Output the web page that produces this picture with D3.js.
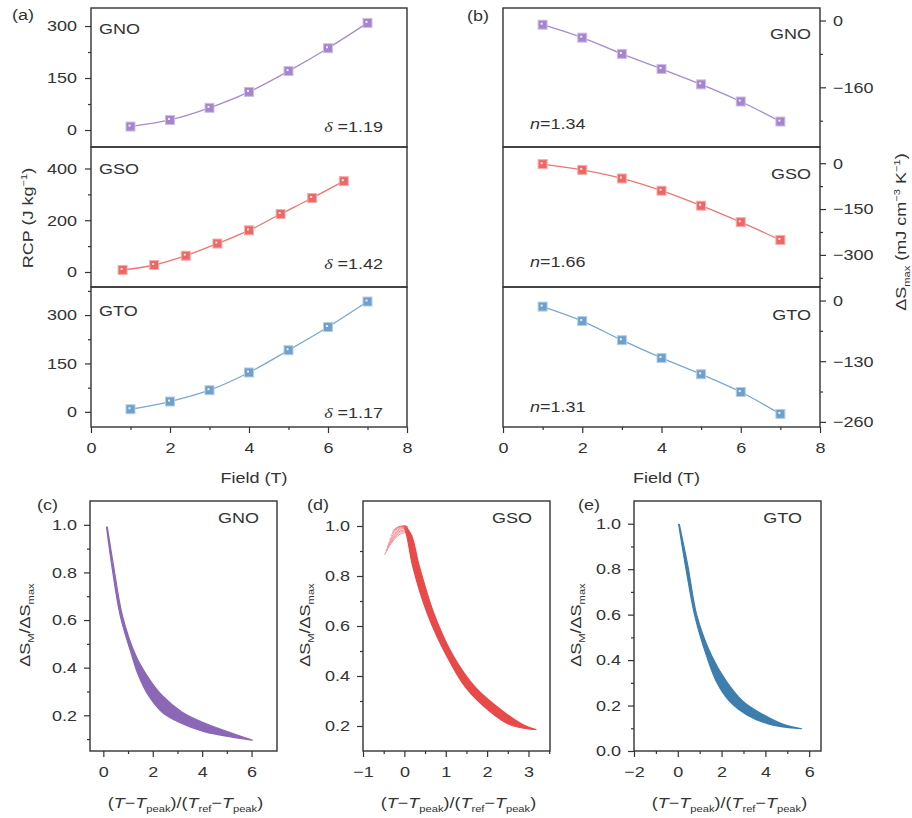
<!DOCTYPE html>
<html>
<head>
<meta charset="utf-8">
<script src="https://cdn.jsdelivr.net/npm/d3@7"></script>
<style>
  body { margin: 0; background: #fff; }
  svg { font-family: "Liberation Sans", Arial, sans-serif; }
</style>
</head>
<body>
<div id="chart"></div>
<script>
// ---- data ----
const samples = ["GNO", "GSO", "GTO"];

// (a) RCP vs field
const fieldGNO = [1, 2, 3, 4, 5, 6, 7];
const fieldGSO = [0.8, 1.6, 2.4, 3.2, 4.0, 4.8, 5.6, 6.4];
const fieldGTO = [1, 2, 3, 4, 5, 6, 7];
const rcpGNO = [10, 29, 64, 110, 170, 236, 309];
const rcpGSO = [8, 27, 63, 110, 161, 224, 286, 351];
const rcpGTO = [8, 32, 67, 122, 191, 263, 342];
const deltaVals = ["1.19", "1.42", "1.17"];

// (b) dSmax vs field
const fieldDS = [1, 2, 3, 4, 5, 6, 7];
const dsGNO = [-10, -41, -80, -116, -153, -194, -242];
const dsGSO = [-3, -22, -50, -90, -139, -193, -251];
const dsGTO = [-13, -44, -85, -123, -158, -196, -243];
const nVals = ["1.34", "1.66", "1.31"];

// (c)-(e) universal curves: band of curves, edges read at the same y levels
const bandY_GNO  = [0.99, 0.83, 0.62, 0.452, 0.368, 0.284, 0.214, 0.172, 0.13, 0.096];
const bandLo_GNO = [0.13, 0.34, 0.68, 1.15, 1.42, 1.82, 2.37, 3.04, 4.12, 6.01];
const bandHi_GNO = [0.16, 0.41, 0.77, 1.31, 1.76, 2.37, 3.18, 3.99, 5.07, 6.03];

const bandY_GSO  = [1.0, 0.96, 0.84, 0.643, 0.484, 0.352, 0.259, 0.206, 0.186];
const bandLo_GSO = [-0.01, 0.06, 0.2, 0.57, 1.01, 1.49, 2.06, 2.54, 3.1];
const bandHi_GSO = [0.03, 0.18, 0.36, 0.73, 1.17, 1.73, 2.38, 2.86, 3.18];
// low-temperature side of the GSO curves, one line per field
const fanGSO = [
  [[-0.48, 0.885], [-0.3, 0.935], [-0.1, 0.968], [0.06, 0.975]],
  [[-0.45, 0.9], [-0.28, 0.945], [-0.1, 0.975], [0.06, 0.98]],
  [[-0.42, 0.915], [-0.26, 0.955], [-0.1, 0.98], [0.06, 0.985]],
  [[-0.39, 0.93], [-0.24, 0.965], [-0.08, 0.988], [0.07, 0.99]],
  [[-0.36, 0.945], [-0.22, 0.975], [-0.06, 0.994], [0.07, 0.993]],
  [[-0.33, 0.96], [-0.2, 0.985], [-0.05, 0.998], [0.08, 0.995]],
  [[-0.3, 0.972], [-0.18, 0.992], [-0.03, 1.0], [0.08, 0.997]],
  [[-0.27, 0.982], [-0.15, 0.997], [0.0, 1.0], [0.09, 0.996]]
];

const bandY_GTO  = [0.997, 0.815, 0.597, 0.422, 0.306, 0.218, 0.16, 0.117, 0.098];
const bandLo_GTO = [0.04, 0.35, 0.77, 1.3, 1.76, 2.37, 3.14, 4.21, 5.64];
const bandHi_GTO = [0.07, 0.46, 0.87, 1.53, 2.22, 2.98, 3.9, 4.82, 5.66];

// ---- styling ----
const SX = 1.2, FS = 15, ink = "#333";
const markCol = ["#a386cc", "#ee6767", "#6f9fcb"];
const lineCol = ["#a68bd0", "#f07373", "#7aa8d0"];
const lightCol = ["#cdbde6", "#f7adad", "#b3cfe6"];
const bandCol = ["#8b68b6", "#e84a4a", "#3d7eae"];

const svg = d3.select("#chart").append("svg")
  .attr("width", 912).attr("height", 818);

// text helper: wide font look, tspans for sub/sup/italic
function txt(g, x, y, parts, o = {}) {
  const size = o.size || FS;
  const t = g.append("text")
    .attr("transform", `translate(${x},${y}) rotate(${o.rot || 0}) scale(${SX},1)`)
    .attr("font-size", size).attr("fill", ink)
    .attr("text-anchor", o.anchor || "start");
  if (typeof parts === "string") parts = [{ t: parts }];
  let shift = 0;
  parts.forEach(p => {
    const target = p.sub ? 4 : p.sup ? -6 : 0;
    const s = t.append("tspan").text(p.t).attr("dy", target - shift);
    shift = target;
    if (p.sub || p.sup) s.attr("font-size", size * 0.62);
    if (p.it) s.attr("font-style", "italic");
    if (p.serif) s.attr("font-family", "'Liberation Serif', serif");
  });
  return t;
}

function styleAxis(g) {
  g.select(".domain").remove();
  g.selectAll("line").attr("stroke", ink).attr("stroke-width", 1.2);
  g.selectAll("text").attr("fill", ink).attr("font-size", FS).each(function () {
    const t = d3.select(this);
    const x = +t.attr("x") || 0, y = +t.attr("y") || 0;
    t.attr("x", null).attr("y", null)
      .attr("transform", `translate(${x},${y}) scale(${SX},1)`);
  });
}

// make() returns a fresh axis generator
function drawAxis(g, make, major, minor, fmt) {
  const a = g.append("g").call(make().tickValues(major).tickSize(6).tickFormat(fmt));
  styleAxis(a);
  if (minor && minor.length) {
    const m = g.append("g").call(make().tickValues(minor).tickSize(3).tickFormat(""));
    styleAxis(m);
  }
}

function frame(g, x0, x1, y0, y1) {
  g.append("rect").attr("x", x0).attr("y", y0)
    .attr("width", x1 - x0).attr("height", y1 - y0)
    .attr("fill", "none").attr("stroke", ink).attr("stroke-width", 1.4);
}

function markers(g, pts, i) {
  const line = d3.line().curve(d3.curveCatmullRom);
  g.append("path").attr("d", line(pts)).attr("fill", "none")
    .attr("stroke", lineCol[i]).attr("stroke-width", 1.3);
  const m = g.append("g").selectAll("g").data(pts).join("g")
    .attr("transform", d => `translate(${d[0]},${d[1]})`);
  m.append("rect").attr("x", -4.5).attr("y", -4.5).attr("width", 9).attr("height", 9)
    .attr("fill", markCol[i]).attr("stroke", lightCol[i]).attr("stroke-width", 1);
  m.append("rect").attr("x", -2).attr("y", -2).attr("width", 2).attr("height", 2)
    .attr("fill", "#fff").attr("opacity", 0.85);
}

// ---- (a) and (b) ----
const rows = [[8, 147], [147, 287], [287, 427]];
const xA = d3.scaleLinear().domain([0, 8]).range([91, 407]);
const xB = d3.scaleLinear().domain([0, 8]).range([503, 820]);

const aRows = [
  { xs: fieldGNO, ys: rcpGNO, dom: [-49, 352], major: [0, 150, 300], minor: [75, 225] },
  { xs: fieldGSO, ys: rcpGSO, dom: [-58, 483], major: [0, 200, 400], minor: [100, 300] },
  { xs: fieldGTO, ys: rcpGTO, dom: [-47, 387], major: [0, 150, 300], minor: [75, 225, 375] }
];
const bRows = [
  { xs: fieldDS, ys: dsGNO, dom: [-303, 30], major: [0, -160], minor: [-80, -240] },
  { xs: fieldDS, ys: dsGSO, dom: [-405, 53], major: [0, -150, -300], minor: [-75, -225, -375] },
  { xs: fieldDS, ys: dsGTO, dom: [-271, 29], major: [0, -130, -260], minor: [-65, -195] }
];
const nameBaseA = [34, 174, 316], nameBaseB = [39, 179, 320];
const deltaBase = [132, 269, 418], nBase = [129, 267, 412];

const gA = svg.append("g"), gB = svg.append("g");
aRows.forEach((r, i) => {
  const y = d3.scaleLinear().domain(r.dom).range([rows[i][1], rows[i][0]]);
  const g = gA.append("g");
  frame(g, 91, 407, rows[i][0], rows[i][1]);
  const ax = g.append("g").attr("transform", "translate(91,0)");
  drawAxis(ax, () => d3.axisLeft(y).tickPadding(8), r.major, r.minor, d3.format("d"));
  markers(g, r.xs.map((x, k) => [xA(x), y(r.ys[k])]), i);
  txt(g, 99, nameBaseA[i], samples[i]);
  txt(g, 383, deltaBase[i], [{ t: "δ", it: true, serif: true }, { t: " =" + deltaVals[i] }], { anchor: "end" });
});
bRows.forEach((r, i) => {
  const y = d3.scaleLinear().domain(r.dom).range([rows[i][1], rows[i][0]]);
  const g = gB.append("g");
  frame(g, 503, 820, rows[i][0], rows[i][1]);
  const ax = g.append("g").attr("transform", "translate(820,0)");
  drawAxis(ax, () => d3.axisRight(y).tickPadding(7), r.major, r.minor, d3.format("d"));
  markers(g, r.xs.map((x, k) => [xB(x), y(r.ys[k])]), i);
  txt(g, 811, nameBaseB[i], samples[i], { anchor: "end" });
  txt(g, 530, nBase[i], [{ t: "n", it: true }, { t: "=" + nVals[i] }]);
});
[[gA, xA], [gB, xB]].forEach(([g, x]) => {
  const ax = g.append("g").attr("transform", "translate(0,427)");
  drawAxis(ax, () => d3.axisBottom(x).tickPadding(9), [0, 2, 4, 6, 8], [1, 3, 5, 7], d3.format("d"));
  txt(g, (x.range()[0] + x.range()[1]) / 2 + 5, 483, "Field (T)", { anchor: "middle" });
});
txt(svg, 12, 20, "(a)");
txt(svg, 467, 21, "(b)");
txt(svg, 33, 218, [{ t: "RCP (J kg" }, { t: "−1", sup: true }, { t: ")" }], { anchor: "middle", rot: -90 });
txt(svg, 906, 232, [{ t: "ΔS" }, { t: "max", sub: true }, { t: " (mJ cm" }, { t: "−3", sup: true },
  { t: " K" }, { t: "−1", sup: true }, { t: ")" }], { anchor: "middle", rot: -90 });

// ---- (c), (d), (e) ----
const bottom = [
  { x0: 90, x1: 277, xd: [-0.54, 7.03], yd: [0.05, 1.1], xMaj: [0, 2, 4, 6], xMin: [1, 3, 5],
    yMaj: [0.2, 0.4, 0.6, 0.8, 1.0], yMin: [0.1, 0.3, 0.5, 0.7, 0.9],
    band: [bandY_GNO, bandLo_GNO, bandHi_GNO], fan: [], letter: "(c)", lx: 37, yl: 30, nameX: 259 },
  { x0: 363, x1: 550, xd: [-1, 3.52], yd: [0.1, 1.1], xMaj: [-1, 0, 1, 2, 3], xMin: [-0.5, 0.5, 1.5, 2.5, 3.5],
    yMaj: [0.2, 0.4, 0.6, 0.8, 1.0], yMin: [0.3, 0.5, 0.7, 0.9],
    band: [bandY_GSO, bandLo_GSO, bandHi_GSO], fan: fanGSO, letter: "(d)", lx: 307, yl: 310, nameX: 532 },
  { x0: 634, x1: 821, xd: [-2, 6.54], yd: [0, 1.1], xMaj: [-2, 0, 2, 4, 6], xMin: [-1, 1, 3, 5],
    yMaj: [0, 0.2, 0.4, 0.6, 0.8, 1.0], yMin: [0.1, 0.3, 0.5, 0.7, 0.9],
    band: [bandY_GTO, bandLo_GTO, bandHi_GTO], fan: [], letter: "(e)", lx: 578, yl: 581, nameX: 802 }
];
const yTop = 501, yBot = 751;
bottom.forEach((p, i) => {
  const g = svg.append("g");
  const x = d3.scaleLinear().domain(p.xd).range([p.x0, p.x1]);
  const y = d3.scaleLinear().domain(p.yd).range([yBot, yTop]);
  const [by, lo, hi] = p.band;
  const area = d3.area().curve(d3.curveCatmullRom)
    .y((d, k) => y(by[k])).x0((d, k) => x(lo[k])).x1((d, k) => x(hi[k]));
  g.append("path").attr("d", area(by)).attr("fill", bandCol[i])
    .attr("stroke", bandCol[i]).attr("stroke-width", 1.2).attr("stroke-linejoin", "round");
  const fl = d3.line().curve(d3.curveCatmullRom).x(d => x(d[0])).y(d => y(d[1]));
  g.selectAll(".fan").data(p.fan).join("path").attr("class", "fan")
    .attr("d", fl).attr("fill", "none").attr("stroke", "#ee5f5f")
    .attr("stroke-width", 1).attr("opacity", 0.7);
  frame(g, p.x0, p.x1, yTop, yBot);
  const axL = g.append("g").attr("transform", `translate(${p.x0},0)`);
  drawAxis(axL, () => d3.axisLeft(y).tickPadding(7), p.yMaj, p.yMin, d3.format(".1f"));
  const axB = g.append("g").attr("transform", `translate(0,${yBot})`);
  drawAxis(axB, () => d3.axisBottom(x).tickPadding(9), p.xMaj, p.xMin, d3.format("d"));
  txt(g, p.nameX, 523, samples[i], { anchor: "end" });
  txt(g, p.lx, 510, p.letter);
  txt(g, p.yl, 625, [{ t: "ΔS" }, { t: "M", sub: true }, { t: "/ΔS" }, { t: "max", sub: true }],
    { anchor: "middle", rot: -90 });
  txt(g, (p.x0 + p.x1) / 2 + 2, 808, [
    { t: "(" }, { t: "T", it: true }, { t: "−" }, { t: "T", it: true }, { t: "peak", sub: true },
    { t: ")/(" }, { t: "T", it: true }, { t: "ref", sub: true }, { t: "−" }, { t: "T", it: true },
    { t: "peak", sub: true }, { t: ")" }
  ], { anchor: "middle" });
});
</script>
</body>
</html>
